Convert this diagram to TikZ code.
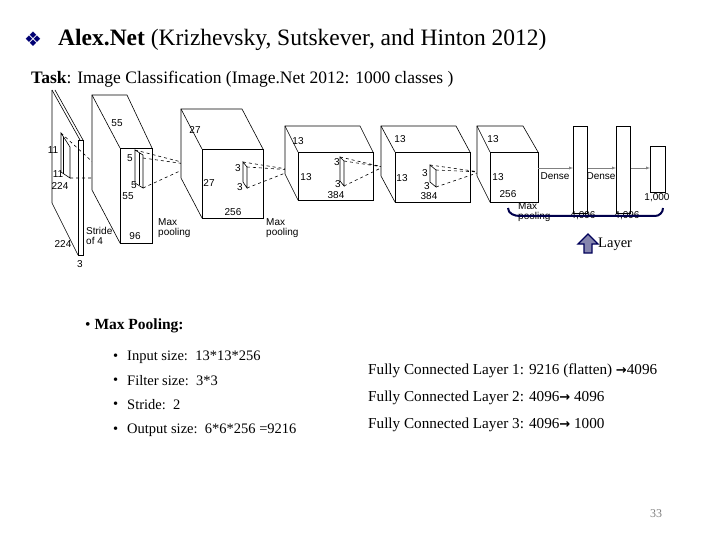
\documentclass[tikz,border=0pt]{standalone}
\usepackage{fontspec}
\setmainfont{Liberation Serif}[BoldFont={Liberation Serif Bold}]
\newfontfamily\arial{Liberation Sans}
\newfontfamily\dv{DejaVu Sans}
\tikzset{lab/.style={font=\arial\fontsize{10}{10.5}\selectfont,inner sep=0pt,align=left},
 box/.style={draw,line width=0.6pt,fill=white},
 kd/.style={dashed,line width=0.6pt},
 body/.style={font=\fontsize{14.5}{16}\selectfont,inner sep=0pt,anchor=west}}
\begin{document}
\begin{tikzpicture}[x=1pt,y=-1pt]
\useasboundingbox (0,0) rectangle (720,540);
% title
\node[font=\dv\fontsize{20}{22}\selectfont,text=blue!45!black,inner sep=0] (dia) at (33,39) {❖};
\node[anchor=west,inner sep=0,font=\fontsize{23.5}{25}\selectfont] (title) at (58,40) {\textbf{Alex.Net} (Krizhevsky, Sutskever, and Hinton 2012)};
\node[anchor=west,inner sep=0,font=\fontsize{17.5}{19}\selectfont] (task) at (31,79) {\textbf{Task}: Image Classification (Image.Net 2012: 1000 classes )};
% input slab
\draw[gray!70,line width=1.2pt] (52,90)--(52,203);
\draw[line width=0.6pt] (52,90)--(80,140) (55,90)--(83,140) (52,203)--(78,255);
\draw[box] (78,140) rectangle (83,255);
\draw[box] (61,133)--(70,147)--(70,178)--(61,172)--cycle;
\draw[line width=0.6pt] (63,137)--(63,174);
\coordinate (p1) at (110,178);
\draw[kd] (61,133)--(p1) (70,178)--(p1);
% layer2
\draw[box] (92,95)--(127,95)--(152,148)--(152,243)--(120,243)--(92,190)--cycle;
\draw[box] (120,148) rectangle (152,243);
\draw[line width=0.6pt] (92,95)--(120,148);
\draw[box] (135,150)--(143,155)--(143,188)--(135,183)--cycle;
\draw[line width=0.6pt] (139,153)--(139,185);
\coordinate (p2) at (193,165);
\draw[kd] (135,150)--(p2) (143,188)--(p2) (143,158)--(p2);
% layer3
\draw[box] (181,109)--(242,109)--(263,149)--(263,218)--(202,218)--(181,178)--cycle;
\draw[box] (202,149) rectangle (263,218);
\draw[line width=0.6pt] (181,109)--(202,149);
\draw[box] (243,162)--(247,167)--(247,188)--(243,182)--cycle;
\coordinate (p3) at (293,170);
\draw[kd] (243,162)--(p3) (247,188)--(p3) (247,167)--(p3);
% layer4
\draw[box] (285,126)--(360,126)--(373,152)--(373,200)--(298,200)--(285,174)--cycle;
\draw[box] (298,152) rectangle (373,200);
\draw[line width=0.6pt] (285,126)--(298,152);
\draw[box] (340,157)--(344,161)--(344,186)--(340,181)--cycle;
\coordinate (p4) at (383,167);
\draw[kd] (340,157)--(p4) (344,186)--(p4) (344,161)--(p4);
% layer5
\draw[box] (381,126)--(456,126)--(470,152)--(470,202)--(395,202)--(381,176)--cycle;
\draw[box] (395,152) rectangle (470,202);
\draw[line width=0.6pt] (381,126)--(395,152);
\draw[box] (430,165)--(436,170)--(436,187)--(430,182)--cycle;
\coordinate (p5) at (480,172);
\draw[kd] (430,165)--(p5) (436,187)--(p5) (436,170)--(p5);
% layer6
\draw[box] (477,126)--(523,126)--(538,152)--(538,202)--(490,202)--(477,176)--cycle;
\draw[box] (490,152) rectangle (538,202);
\draw[line width=0.6pt] (477,126)--(490,152);
% dense
\node[box,minimum width=14pt,minimum height=87pt,inner sep=0,anchor=north west] (d1) at (573,126) {};
\node[box,minimum width=14pt,minimum height=87pt,inner sep=0,anchor=north west] (d2) at (616,126) {};
\node[box,minimum width=15pt,minimum height=46pt,inner sep=0,anchor=north west] (d3) at (650,146) {};
\coordinate (l6) at (538,168);
\draw[gray,-latex] (l6)--(d1.west|-l6);
\draw[gray,-latex] (d1.east|-l6)--(d2.west|-l6);
\draw[gray,-latex] (d2.east|-l6)--(d3.west|-l6);
% labels
\foreach \p/\t in {{117,123}/55,{53,150}/11,{58,174}/11,{60,186}/224,{63,244}/224,{80,264}/3,{130,158}/5,{134,185}/5,{128,196}/55,{135,236}/96,{195,130}/27,{209,183}/27,{238,168}/3,{240,187}/3,{233,212}/256,{298,141}/13,{306,177}/13,{337,162}/3,{338,184}/3,{336,195}/384,{400,139}/13,{402,178}/13,{425,173}/3,{427,186}/3,{429,196}/384,{493,139}/13,{498,177}/13,{508,194}/256,{555,176}/Dense,{601,176}/Dense,{657,198}/{1,000},{583,216}/{4,096},{627,216}/{4,096}}
  \node[lab] at (\p) {\t};
\node[lab,anchor=west] at (86,236) {Stride\\of 4};
\node[lab,anchor=west] at (158,228) {Max\\pooling};
\node[lab,anchor=west] at (266,228) {Max\\pooling};
\node[lab,anchor=west] at (518,212) {Max\\pooling};
% brace
\draw[blue!30!black,line width=2pt] (508,208) to[out=-90,in=180] (520,216)--(655,216) to[out=0,in=-90] (663,208);
% up arrow
\draw[draw=blue!35!black,fill=blue!20!gray!80,line width=1.4pt,line join=miter] (584,253)--(584,244)--(578,244)--(588,234)--(598,244)--(592,244)--(592,253)--cycle;
\node[anchor=west,inner sep=0,font=\fontsize{14.5}{15}\selectfont] (lay) at (598,244) {Layer};
% bullets
\node[body,font=\fontsize{15.5}{17}\selectfont] (mp) at (85,326) {• \textbf{Max Pooling:}};
\foreach \y/\t in {357/{Input size:\ \ 13*13*256},381/{Filter size:\ \ 3*3},405/{Stride:\ \ 2},430/{Output size:\ \ 6*6*256 =9216}}{
  \node[body] at (113,\y) {•};
  \node[body] at (127,\y) {\t};}
\node[body,font=\fontsize{15.2}{16}\selectfont] (f1) at (368,371) {Fully Connected Layer 1: 9216 (flatten) {\dv\bfseries\fontsize{13}{12}\selectfont →}4096};
\node[body,font=\fontsize{15.2}{16}\selectfont] (f2) at (368,398) {Fully Connected Layer 2: 4096{\dv\bfseries\fontsize{13}{12}\selectfont →} 4096};
\node[body,font=\fontsize{15.2}{16}\selectfont] (f3) at (368,425) {Fully Connected Layer 3: 4096{\dv\bfseries\fontsize{13}{12}\selectfont →} 1000};
\node[inner sep=0,text=gray,font=\fontsize{12}{13}\selectfont] (pg) at (656,514) {33};
\end{tikzpicture}
\end{document}
